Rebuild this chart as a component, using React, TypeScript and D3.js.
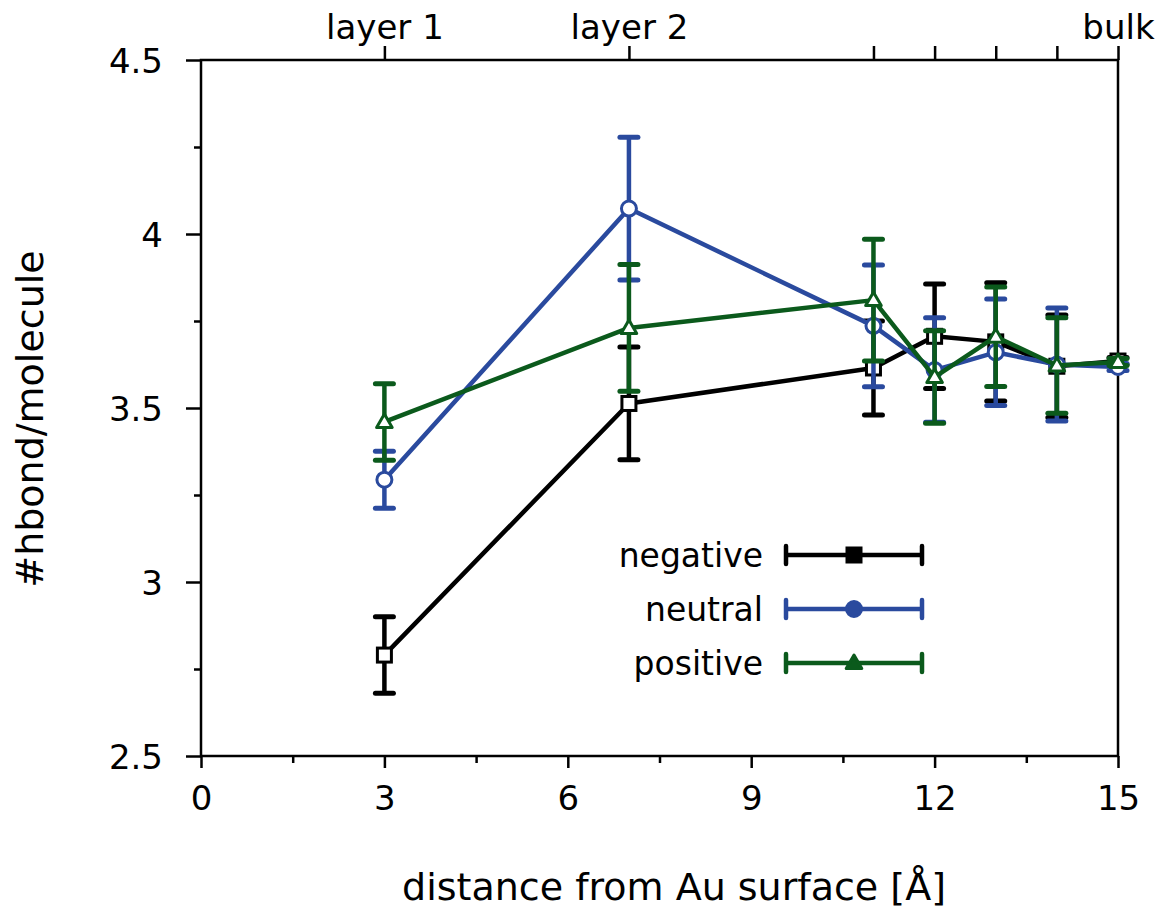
import React, { useEffect, useRef } from 'react';
import * as d3 from 'd3';

// distance from Au surface [Å]
const distances = [3, 7, 11, 12, 13, 14, 15];

const negativeValues = [2.79, 3.513, 3.615, 3.706, 3.69, 3.62, 3.635];
const negativeErrors = [0.11, 0.162, 0.135, 0.15, 0.17, 0.147, 0.01];
const neutralValues = [3.294, 4.073, 3.736, 3.609, 3.66, 3.625, 3.618];
const neutralErrors = [0.082, 0.205, 0.175, 0.15, 0.153, 0.162, 0.01];
const positiveValues = [3.46, 3.73, 3.81, 3.589, 3.705, 3.622, 3.632];
const positiveErrors = [0.11, 0.182, 0.175, 0.133, 0.143, 0.137, 0.01];

const seriesNames = ['negative', 'neutral', 'positive'];
const seriesColors = ['#000000', '#2a4a9e', '#0b5a1c'];
const seriesMarkers = ['square', 'circle', 'triangle'];

const xMajorTicks = [0, 3, 6, 9, 12, 15];
const xMinorTicks = [1.5, 4.5, 7.5, 10.5, 13.5];
const yMajorTicks = [2.5, 3, 3.5, 4, 4.5];
const yMinorTicks = [2.75, 3.25, 3.75, 4.25];
const topTicks = [3, 7, 11, 12, 13, 14, 15];
const topTickLabels = ['layer 1', 'layer 2', '', '', '', '', 'bulk'];

const FONT = '"DejaVu Sans", Verdana, sans-serif';

export default function App() {
    const svgRef = useRef<SVGSVGElement>(null);

    useEffect(() => {
        const width = 1158;
        const height = 918;
        const margin = { top: 60, right: 40, bottom: 162, left: 201 };
        const plotW = width - margin.left - margin.right;
        const plotH = height - margin.top - margin.bottom;

        const root = d3.select(svgRef.current);
        root.selectAll('*').remove();

        const svg = root.append('g').attr('transform', 'translate(' + margin.left + ',' + margin.top + ')');

        const x = d3.scaleLinear().domain([0, 15]).range([0, plotW]);
        const y = d3.scaleLinear().domain([2.5, 4.5]).range([plotH, 0]);

        const styleAxis = (g: any) => {
            g.select('.domain').remove();
            g.selectAll('line').attr('stroke', '#000').attr('stroke-width', 2.5);
            g.selectAll('text').attr('font-family', FONT).attr('fill', '#000');
        };

        // bottom axis, major + minor ticks
        svg.append('g')
            .attr('transform', 'translate(0,' + plotH + ')')
            .call(d3.axisBottom(x).tickValues(xMajorTicks).tickSize(12).tickSizeOuter(0).tickFormat(d3.format('d')))
            .call(styleAxis)
            .call((g: any) => g.selectAll('text').attr('font-size', 34).attr('y', 54).attr('dy', '0'));
        svg.append('g')
            .attr('transform', 'translate(0,' + plotH + ')')
            .call(d3.axisBottom(x).tickValues(xMinorTicks).tickSize(7).tickSizeOuter(0).tickFormat(() => ''))
            .call(styleAxis);

        // left axis
        svg.append('g')
            .call(d3.axisLeft(y).tickValues(yMajorTicks).tickSize(15).tickSizeOuter(0).tickFormat((d: any) => String(d)))
            .call(styleAxis)
            .call((g: any) => g.selectAll('text').attr('font-size', 34).attr('x', -38).attr('dy', '0.36em'));
        svg.append('g')
            .call(d3.axisLeft(y).tickValues(yMinorTicks).tickSize(7).tickSizeOuter(0).tickFormat(() => ''))
            .call(styleAxis);

        // top axis with layer labels
        svg.append('g')
            .call(
                d3.axisTop(x)
                    .tickValues(topTicks)
                    .tickSize(14)
                    .tickSizeOuter(0)
                    .tickFormat((d: any, i: number) => topTickLabels[i])
            )
            .call(styleAxis)
            .call((g: any) => g.selectAll('text').attr('font-size', 34).attr('y', -21).attr('dy', '0'));

        // frame
        svg.append('rect')
            .attr('width', plotW)
            .attr('height', plotH)
            .attr('fill', 'none')
            .attr('stroke', '#000')
            .attr('stroke-width', 2.5);

        const allValues = [negativeValues, neutralValues, positiveValues];
        const allErrors = [negativeErrors, neutralErrors, positiveErrors];

        const drawMarker = (g: any, kind: string, cx: number, cy: number, color: string, fill: string) => {
            if (kind === 'square') {
                g.append('rect')
                    .attr('x', cx - 7)
                    .attr('y', cy - 7)
                    .attr('width', 14)
                    .attr('height', 14)
                    .attr('fill', fill)
                    .attr('stroke', color)
                    .attr('stroke-width', 3);
            } else if (kind === 'circle') {
                g.append('circle')
                    .attr('cx', cx)
                    .attr('cy', cy)
                    .attr('r', 7.5)
                    .attr('fill', fill)
                    .attr('stroke', color)
                    .attr('stroke-width', 3);
            } else {
                const s = d3.symbol().type(d3.symbolTriangle).size(105);
                g.append('path')
                    .attr('d', s())
                    .attr('transform', 'translate(' + cx + ',' + (cy + 1) + ')')
                    .attr('fill', fill)
                    .attr('stroke', color)
                    .attr('stroke-width', 3)
                    .attr('stroke-linejoin', 'round');
            }
        };

        const line = d3
            .line<number>()
            .x((d, i) => x(distances[i]))
            .y((d) => y(d));

        seriesNames.forEach((name, si) => {
            const color = seriesColors[si];
            const vals = allValues[si];
            const errs = allErrors[si];
            const g = svg.append('g');

            g.append('path')
                .attr('d', line(vals))
                .attr('fill', 'none')
                .attr('stroke', color)
                .attr('stroke-width', 4.5)
                .attr('stroke-linejoin', 'round');

            // error bars
            vals.forEach((v, i) => {
                const cx = x(distances[i]);
                const top = y(v + errs[i]);
                const bot = y(v - errs[i]);
                g.append('line')
                    .attr('x1', cx).attr('x2', cx)
                    .attr('y1', top).attr('y2', bot)
                    .attr('stroke', color).attr('stroke-width', 4.5);
                [top, bot].forEach((cy) => {
                    g.append('line')
                        .attr('x1', cx - 9).attr('x2', cx + 9)
                        .attr('y1', cy).attr('y2', cy)
                        .attr('stroke', color).attr('stroke-width', 5)
                        .attr('stroke-linecap', 'round');
                });
            });

            vals.forEach((v, i) => {
                drawMarker(g, seriesMarkers[si], x(distances[i]), y(v), color, '#fff');
            });
        });

        // legend
        const legend = svg.append('g');
        seriesNames.forEach((name, si) => {
            const color = seriesColors[si];
            const ly = 495 + si * 54;
            const x0 = 585;
            const x1 = 721;
            legend.append('text')
                .attr('x', 562)
                .attr('y', ly)
                .attr('dy', '0.36em')
                .attr('text-anchor', 'end')
                .attr('font-family', FONT)
                .attr('font-size', 33)
                .text(name);
            legend.append('line')
                .attr('x1', x0).attr('x2', x1).attr('y1', ly).attr('y2', ly)
                .attr('stroke', color).attr('stroke-width', 4.5);
            [x0, x1].forEach((cx) => {
                legend.append('line')
                    .attr('x1', cx).attr('x2', cx).attr('y1', ly - 9).attr('y2', ly + 9)
                    .attr('stroke', color).attr('stroke-width', 4.5)
                    .attr('stroke-linecap', 'round');
            });
            drawMarker(legend, seriesMarkers[si], (x0 + x1) / 2, ly, color, color);
        });

        // axis titles
        root.append('text')
            .attr('x', 674)
            .attr('y', 900)
            .attr('text-anchor', 'middle')
            .attr('font-family', FONT)
            .attr('font-size', 38)
            .text('distance from Au surface [Å]');

        root.append('text')
            .attr('transform', 'translate(43,419) rotate(-90)')
            .attr('text-anchor', 'middle')
            .attr('font-family', FONT)
            .attr('font-size', 38)
            .text('#hbond/molecule');
    }, []);

    return (
        <svg
            ref={svgRef}
            width={1158}
            height={918}
            style={{ position: 'absolute', left: 0, top: 0, background: '#fff' }}
        />
    );
}
